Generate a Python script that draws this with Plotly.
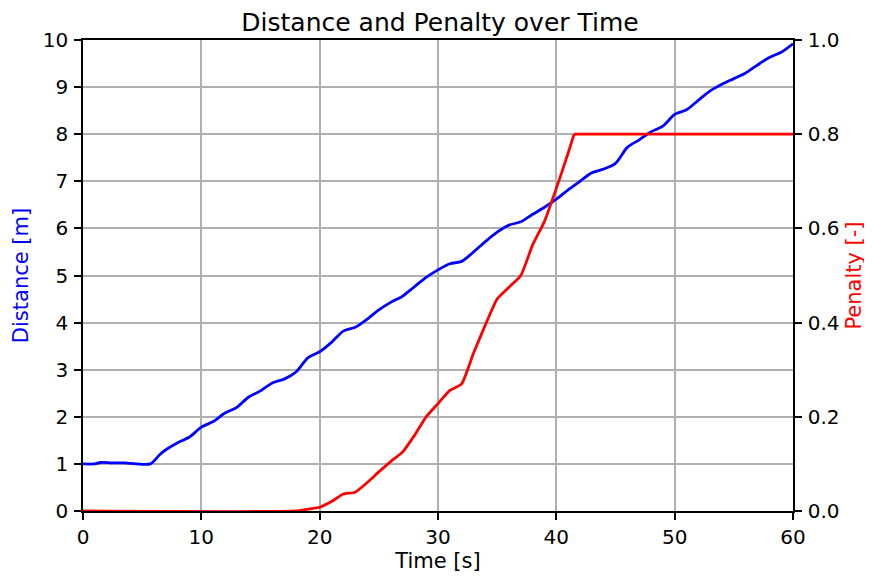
import plotly.graph_objects as go

time_s = [0, 1, 1.5, 2.5, 3.5, 4.5, 5.7, 6.5, 7, 8, 9, 10, 11, 12, 13, 14, 15, 16, 17, 18, 19, 20, 21, 22, 23, 24, 25, 26, 27, 28, 29, 30, 31, 32, 33, 34, 35, 36, 37, 38, 39, 40, 41, 42, 43, 44, 45, 46, 47, 48, 49, 50, 51, 52, 53, 54, 55, 56, 57, 58, 59, 60]
distance = [1.0, 1.0, 1.03, 1.02, 1.02, 1.0, 1.0, 1.2, 1.3, 1.45, 1.57, 1.78, 1.9, 2.08, 2.2, 2.42, 2.55, 2.72, 2.8, 2.95, 3.25, 3.38, 3.58, 3.82, 3.9, 4.07, 4.27, 4.43, 4.56, 4.76, 4.96, 5.12, 5.25, 5.3, 5.5, 5.72, 5.92, 6.07, 6.14, 6.3, 6.45, 6.62, 6.82, 7.0, 7.18, 7.26, 7.38, 7.72, 7.88, 8.05, 8.17, 8.42, 8.52, 8.72, 8.92, 9.06, 9.18, 9.3, 9.47, 9.63, 9.74, 9.92]

# rising part of the penalty (smooth) and the capped plateau
pen_time = [0, 18, 19, 20, 21, 22, 23, 24, 25, 26, 27, 28, 29, 30, 31, 32, 33, 34, 35, 36, 37, 38, 39, 40, 41, 41.5]
penalty = [0, 0, 0.004, 0.008, 0.02, 0.036, 0.04, 0.06, 0.083, 0.105, 0.125, 0.16, 0.2, 0.228, 0.256, 0.27, 0.335, 0.395, 0.45, 0.475, 0.5, 0.565, 0.615, 0.685, 0.76, 0.8]
plateau_time = [41.5, 60]
plateau_penalty = [0.8, 0.8]

font = "DejaVu Sans"
tick_size = 20
label_size = 21

fig = go.Figure()
fig.add_trace(go.Scatter(x=time_s, y=distance, mode="lines", line=dict(color="#0000ff", width=2.8, shape="spline", smoothing=0.8), name="Distance"))
fig.add_trace(go.Scatter(x=pen_time, y=penalty, mode="lines", line=dict(color="#ff0000", width=2.8, shape="spline", smoothing=0.5), name="Penalty", yaxis="y2"))
fig.add_trace(go.Scatter(x=plateau_time, y=plateau_penalty, mode="lines", line=dict(color="#ff0000", width=2.8), name="Penalty cap", yaxis="y2"))

axis_common = dict(showline=True, linecolor="black", linewidth=1.5, ticks="outside", ticklen=7, tickwidth=1.5, tickcolor="black",
                   tickfont=dict(family=font, size=tick_size, color="black"), zeroline=False, automargin=False)

fig.update_layout(
    width=864, height=571,
    margin=dict(l=75, r=79, t=32, b=68),
    paper_bgcolor="white", plot_bgcolor="white",
    showlegend=False,
    title=dict(text="Distance and Penalty over Time", x=0.5, xanchor="center", y=0.99, yanchor="top", font=dict(family=font, size=25, color="black"), automargin=False),
    xaxis=dict(range=[0, 60], dtick=10, showgrid=True, gridcolor="#b0b0b0", gridwidth=1.5, mirror=True,
               title=dict(text="Time [s]", font=dict(family=font, size=label_size, color="black"), standoff=4), **axis_common),
    yaxis=dict(range=[0, 10], dtick=1, showgrid=True, gridcolor="#b0b0b0", gridwidth=1.5, ticklabelstandoff=2,
               title=dict(text="Distance [m]", font=dict(family=font, size=label_size, color="#0000ff"), standoff=8), **axis_common),
    yaxis2=dict(range=[0, 1], dtick=0.2, tickformat=".1f", overlaying="y", side="right", showgrid=False, ticklabelstandoff=2,
                title=dict(text="Penalty [-]", font=dict(family=font, size=label_size, color="#ff0000"), standoff=8), **axis_common),
)

fig.write_html("out.html")
